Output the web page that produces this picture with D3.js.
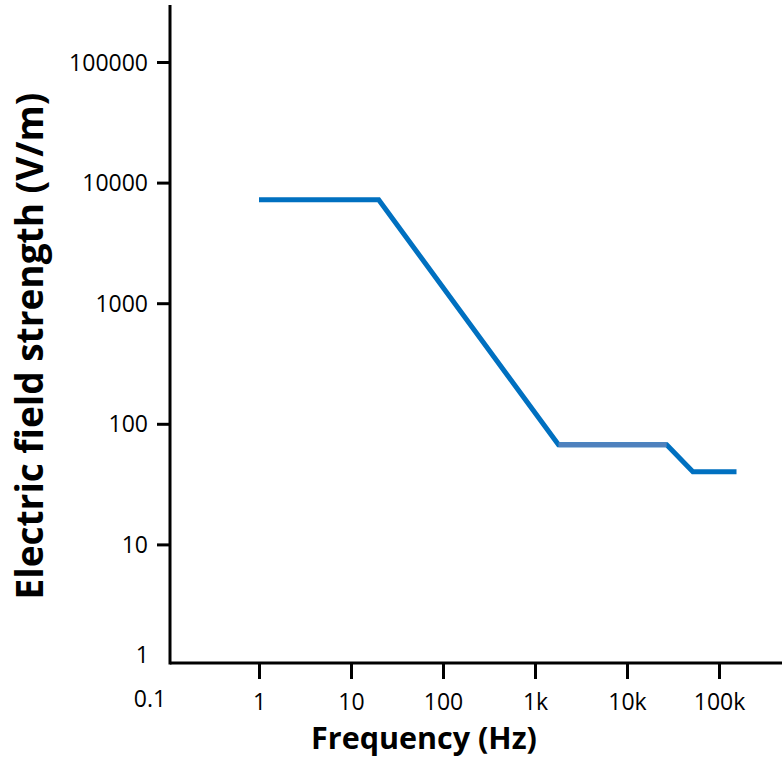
<!DOCTYPE html>
<html><head><meta charset="utf-8">
<script src="https://cdn.jsdelivr.net/npm/d3@7"></script>
<style>body{margin:0;background:#fff}svg{display:block}</style>
</head><body>
<svg id="c" width="782" height="764"></svg>
<script>
// Data
const freqs = [1, 20, 1800, 27000, 52000, 155000];
const fieldValues = [7200, 7200, 67, 67, 40, 40];
const xTickValues = [1, 10, 100, 1000, 10000, 100000];
const xTickLabels = ["1", "10", "100", "1k", "10k", "100k"];
const yTickValues = [10, 100, 1000, 10000, 100000];
const yTickLabels = ["10", "100", "1000", "10000", "100000"];
const xTitle = "Frequency (Hz)";
const yTitle = "Electric field strength (V/m)";

const svg = d3.select("#c");
const font = "'Open Sans', sans-serif";
const tickFs = 23;
const x = d3.scaleLog().domain([1, 1e5]).range([259, 719]);
const y = d3.scaleLog().domain([1, 1e5]).range([665, 62]);
const axisX0 = 170, axisY0 = 663;

// axis lines
svg.append("line").attr("x1", axisX0).attr("x2", 782).attr("y1", axisY0).attr("y2", axisY0)
  .attr("stroke", "#000").attr("stroke-width", 3);
svg.append("line").attr("x1", axisX0).attr("x2", axisX0).attr("y1", 5).attr("y2", axisY0 + 1.5)
  .attr("stroke", "#000").attr("stroke-width", 3);

// x axis
const gx = svg.append("g").attr("transform", `translate(0,${axisY0})`)
  .call(d3.axisBottom(x).tickValues(xTickValues)
    .tickFormat((d, i) => xTickLabels[i]).tickSize(16));
gx.select(".domain").remove();
gx.selectAll(".tick line").attr("stroke", "#000").attr("stroke-width", 3);
gx.selectAll(".tick text").attr("font-family", font).attr("font-size", tickFs).attr("fill", "#000")
  .attr("y", 39).attr("dy", "0.35em");

// y axis
const gy = svg.append("g").attr("transform", `translate(${axisX0},0)`)
  .call(d3.axisLeft(y).tickValues(yTickValues)
    .tickFormat((d, i) => yTickLabels[i]).tickSize(13).tickPadding(9));
gy.select(".domain").remove();
gy.selectAll(".tick line").attr("stroke", "#000").attr("stroke-width", 3);
gy.selectAll(".tick text").attr("font-family", font).attr("font-size", tickFs).attr("fill", "#000")
  .attr("dy", "0.35em");

// corner labels
svg.append("text").attr("x", 149).attr("y", 655).attr("dy", "0.35em").attr("text-anchor", "end")
  .attr("font-family", font).attr("font-size", tickFs).text("1");
svg.append("text").attr("x", 150).attr("y", 699).attr("dy", "0.35em").attr("text-anchor", "middle")
  .attr("font-family", font).attr("font-size", tickFs).text("0.1");

// line
const pts = freqs.map((f, i) => [x(f), y(fieldValues[i])]);
svg.append("path").datum(pts)
  .attr("d", d3.line())
  .attr("fill", "none").attr("stroke", "#0070C0").attr("stroke-width", 5)
  .attr("stroke-linejoin", "miter");
svg.append("path").datum(pts.slice(2, 4))
  .attr("d", d3.line())
  .attr("fill", "none").attr("stroke", "#4F81BD").attr("stroke-width", 5);

// titles
function fit(t, w) {
  const cur = t.node().getComputedTextLength();
  const fs = parseFloat(t.attr("font-size"));
  t.attr("font-size", fs * w / cur);
}
const xt = svg.append("text").attr("x", 424).attr("y", 749).attr("text-anchor", "middle")
  .attr("font-family", font).attr("font-weight", "bold").attr("font-size", 26).text(xTitle);
fit(xt, 226);
const yt = svg.append("text").attr("transform", "translate(30,346) rotate(-90)").attr("dy", "0.35em")
  .attr("text-anchor", "middle")
  .attr("font-family", font).attr("font-weight", "bold").attr("font-size", 26).text(yTitle);
fit(yt, 507);
</script>
</body></html>
